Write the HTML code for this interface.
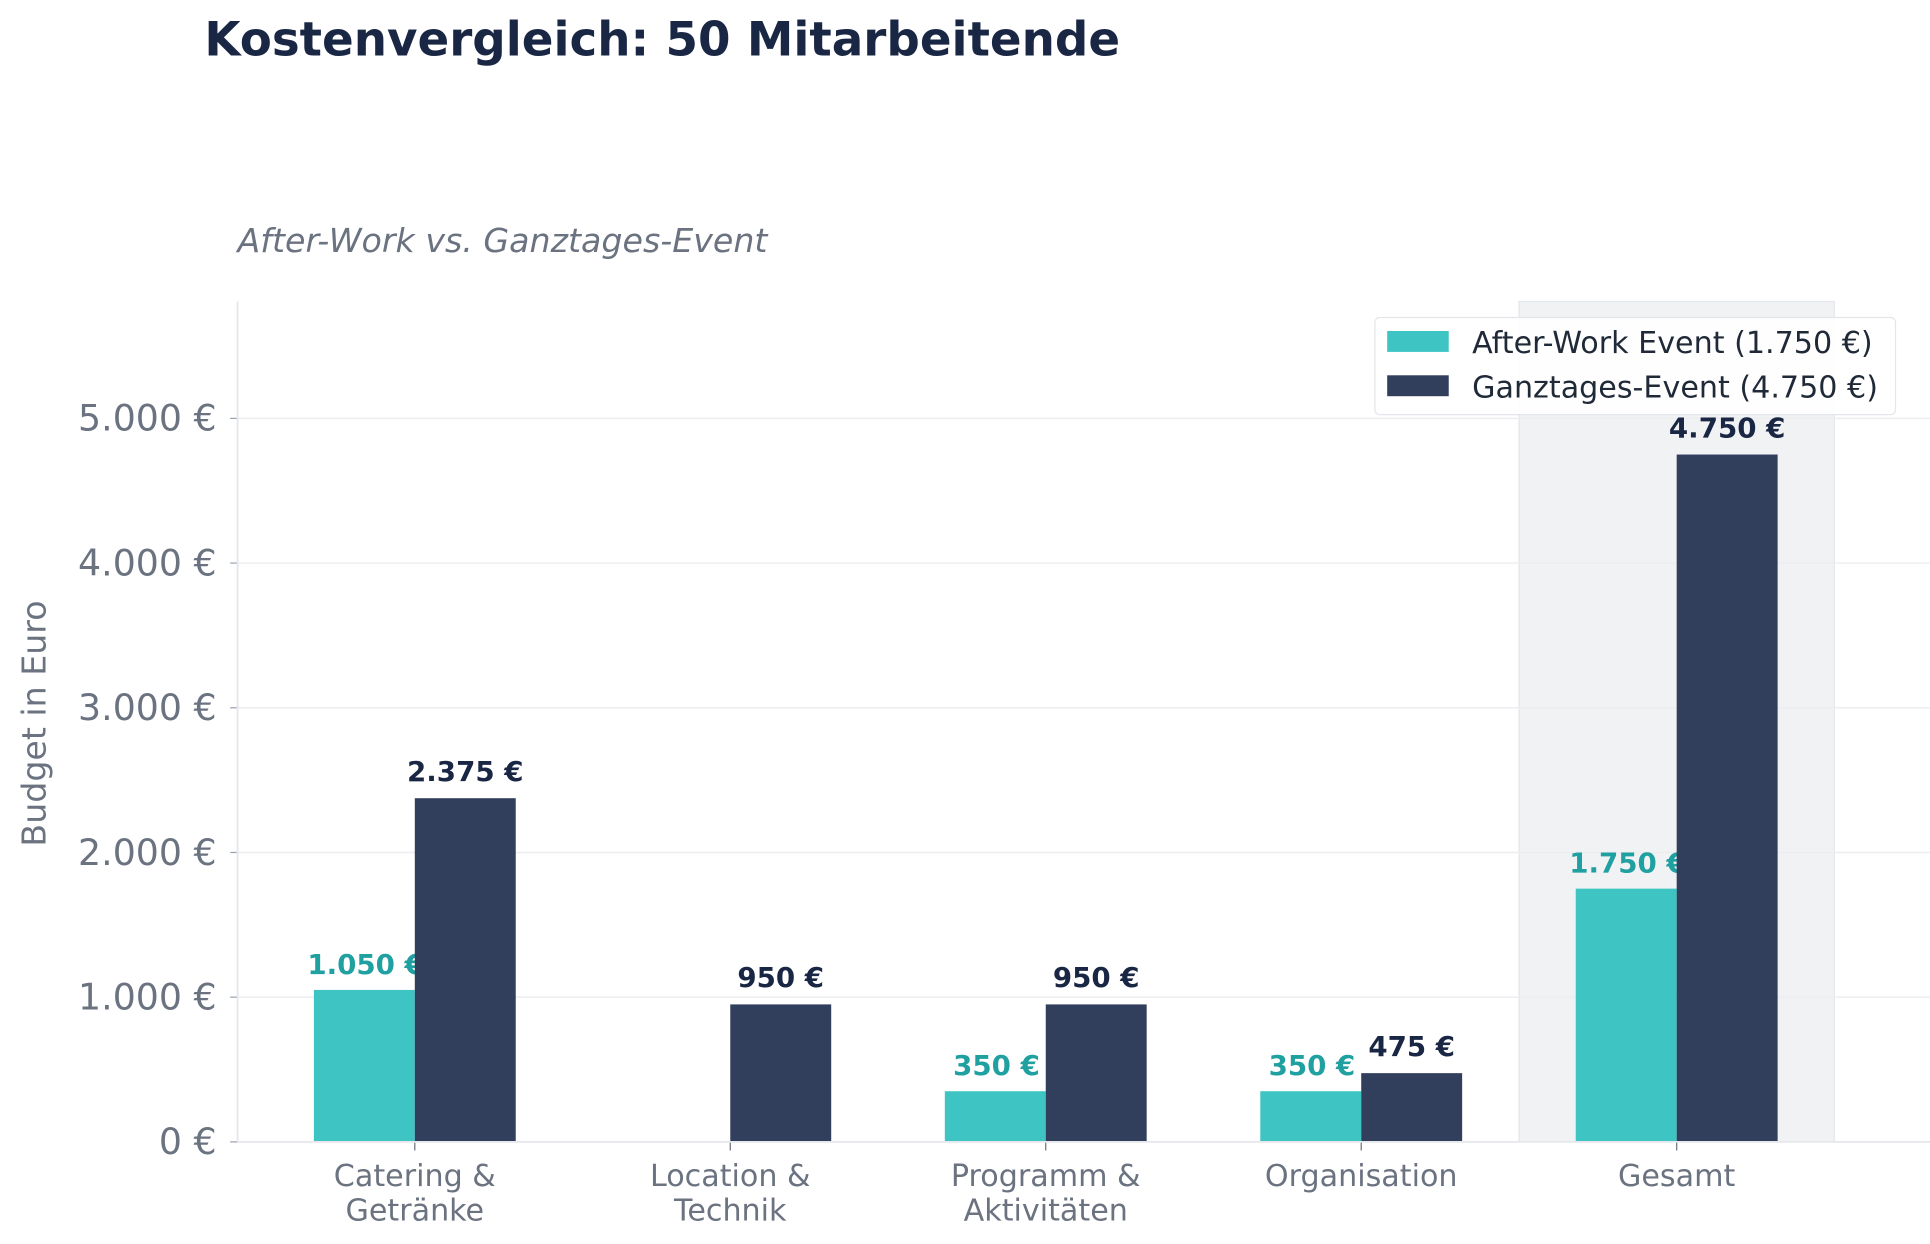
<!DOCTYPE html>
<html><head><meta charset="utf-8"><style>
html,body{margin:0;padding:0;background:#fff;}
svg{display:block;font-family:"DejaVu Sans","Liberation Sans",sans-serif;}
</style></head><body>
<svg id="chart" width="1930" height="1244" viewBox="0 0 1568 1011" preserveAspectRatio="none" xmlns="http://www.w3.org/2000/svg">
<text x="166" y="45" font-size="38" font-weight="bold" fill="#1a2744">Kostenvergleich: 50 Mitarbeitende</text>
<text x="193" y="205" font-size="27" font-style="italic" fill="#6b7280">After-Work vs. Ganztages-Event</text>
<g id="plot"></g>
</svg>
<script>
const categories = [["Catering &","Getränke"],["Location &","Technik"],["Programm &","Aktivitäten"],["Organisation"],["Gesamt"]];
const afterWork = [1050, 0, 350, 350, 1750];
const ganztages = [2375, 950, 950, 475, 4750];
const yTicks = [0, 1000, 2000, 3000, 4000, 5000];
const yTickLabels = ["0 €","1.000 €","2.000 €","3.000 €","4.000 €","5.000 €"];
const afterLabels = ["1.050 €", "", "350 €", "350 €", "1.750 €"];
const ganzLabels = ["2.375 €", "950 €", "950 €", "475 €", "4.750 €"];

const NS = "http://www.w3.org/2000/svg";
const g = document.getElementById('plot');
const L = 193, R = 1568, T = 245, B = 928;
const x0 = 337, step = 256.3, bw = 82;
const y = v => B - v * (B - 340) / 5000;
const xc = i => x0 + i * step;
function el(tag, attrs, parent) {
  const e = document.createElementNS(NS, tag);
  for (const k in attrs) e.setAttribute(k, attrs[k]);
  (parent || g).appendChild(e);
  return e;
}
const hb = el('rect', {x: xc(4) - 128, y: T, width: 256, height: B - T, fill: '#f0f2f4', stroke: '#e3e6ea'});


yTicks.forEach((v, i) => {
  if (v > 0) {
    const gl = el('line', {x1: L, x2: R, y1: y(v), y2: y(v), stroke: '#ebedf0', 'stroke-width': 1.2});
    
    
  }
  el('line', {x1: L - 6, x2: L, y1: y(v), y2: y(v), stroke: '#9ca3af'});
  const t = el('text', {x: 176, y: y(v) + 10, 'text-anchor': 'end', 'font-size': 29.5, fill: '#6b7280'});
  t.textContent = yTickLabels[i];
  
  
});
const ay = el('line', {x1: L, x2: L, y1: T, y2: B, stroke: '#e5e7eb', 'stroke-width': 1.5});


const yt = el('text', {x: 0, y: 0, transform: 'translate(37,588) rotate(-90)', 'text-anchor': 'middle', 'font-size': 27, fill: '#6b7280'});
yt.textContent = 'Budget in Euro';


categories.forEach((c, i) => {
  const cx = xc(i);
  if (afterWork[i] > 0) {
    const b = el('rect', {x: cx - bw, y: y(afterWork[i]), width: bw, height: B - y(afterWork[i]), fill: '#3fc4c4'});
    
    
    const t = el('text', {x: cx - bw / 2 + 1, y: y(afterWork[i]) - 13, 'text-anchor': 'middle', 'font-size': 22.5, 'font-weight': 'bold', fill: '#20a0a0'});
    t.textContent = afterLabels[i];
    
    
  }
  const b2 = el('rect', {x: cx, y: y(ganztages[i]), width: bw, height: B - y(ganztages[i]), fill: '#323f5c'});
  
  
  const t2 = el('text', {x: cx + bw / 2, y: y(ganztages[i]) - 14, 'text-anchor': 'middle', 'font-size': 22.5, 'font-weight': 'bold', fill: '#1a2744'});
  t2.textContent = ganzLabels[i];
  
  
  el('line', {x1: cx, x2: cx, y1: B, y2: B + 7, stroke: '#6b7280'});
  c.forEach((line, j) => {
    const t = el('text', {x: cx, y: 964 + j * 28, 'text-anchor': 'middle', 'font-size': 24.5, fill: '#6b7280'});
    t.textContent = line;
    
    
  });
});
const ax = el('line', {x1: L, x2: R, y1: B, y2: B, stroke: '#e5e7eb', 'stroke-width': 1.5});


const lg = el('g', {});


el('rect', {x: 1117, y: 258, width: 423, height: 79, rx: 4, fill: '#fff', 'fill-opacity': 0.9, stroke: '#e3e6ea'}, lg);
[['#3fc4c4', 'After-Work Event (1.750 €)', 'legend-entry-after-work'], ['#323f5c', 'Ganztages-Event (4.750 €)', 'legend-entry-ganztages']].forEach((d, i) => {
  const ge = el('g', {}, lg);
  
  
  el('rect', {x: 1127, y: 269 + i * 36, width: 50, height: 17, fill: d[0]}, ge);
  const t = el('text', {x: 1196, y: 287 + i * 36, 'font-size': 24.5, fill: '#1f2937'}, ge);
  t.textContent = d[1];
});
</script>
</body></html>
